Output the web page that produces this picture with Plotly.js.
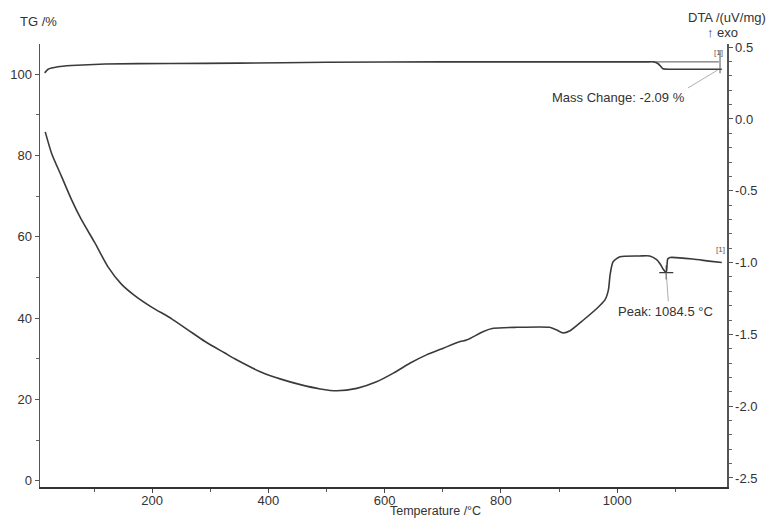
<!DOCTYPE html>
<html>
<head>
<meta charset="utf-8">
<script src="https://cdn.plot.ly/plotly-3.0.1.min.js"></script>
<style>html,body{margin:0;padding:0;background:#fff;}#chart{width:769px;height:518px;}</style>
</head>
<body>
<div id="chart"></div>
<script>
// TG curve (left axis, %)
const tgTemp = [15, 21, 38, 61, 119, 233, 348, 500, 700, 900, 1050, 1063, 1070, 1075, 1079, 1090, 1120, 1150, 1180];
const tgMass = [100.3, 101.2, 101.8, 102.1, 102.5, 102.6, 102.7, 102.9, 103.0, 103.0, 103.0, 103.0, 102.6, 101.9, 101.3, 101.2, 101.2, 101.2, 101.2];

// DTA curve (right axis, uV/mg)
const dtaTemp = [16, 27, 44, 61, 78, 101, 124, 147, 170, 199, 233, 262, 291, 325, 342, 386, 420, 455, 489, 518, 552, 586, 615, 644, 672, 701, 730, 741, 770, 787, 827, 884, 896, 907, 919, 942, 965, 979, 985, 988, 993, 1005, 1039, 1056, 1068, 1074, 1079, 1084.5, 1087, 1091, 1130, 1158, 1180];
const dtaVal = [-0.09, -0.24, -0.40, -0.56, -0.70, -0.86, -1.03, -1.15, -1.23, -1.31, -1.39, -1.47, -1.55, -1.63, -1.67, -1.76, -1.81, -1.85, -1.88, -1.893, -1.876, -1.83, -1.77, -1.70, -1.643, -1.596, -1.55, -1.54, -1.48, -1.458, -1.451, -1.451, -1.47, -1.49, -1.475, -1.40, -1.32, -1.26, -1.19, -1.08, -0.994, -0.959, -0.954, -0.954, -0.98, -1.01, -1.045, -1.07, -0.975, -0.965, -0.975, -0.99, -1.00];

// Axis ticks
const xTickVals = [200, 400, 600, 800, 1000];
const yTickVals = [0, 20, 40, 60, 80, 100];
const y2TickVals = [0.5, 0.0, -0.5, -1.0, -1.5, -2.0, -2.5];
const y2TickText = ['0.5', '0.0', '-0.5', '-1.0', '-1.5', '-2.0', '-2.5'];

// Annotations
const massChangeText = 'Mass Change: -2.09 %';
const peakTemp = 1084.5;
const peakVal = -1.07;
const peakText = 'Peak: 1084.5 °C';
const stepStart = 1063;
const stepLevel = 103.0;
const bracketT = 1177;

const ink = '#3a3a3a';
const fnt = {family: 'Liberation Sans, Arial, sans-serif', size: 13, color: '#333'};

const traces = [
  {x: tgTemp, y: tgMass, type: 'scatter', mode: 'lines', line: {color: ink, width: 1.6, shape: 'spline', smoothing: 0.5}, yaxis: 'y', hoverinfo: 'skip'},
  {x: dtaTemp, y: dtaVal, type: 'scatter', mode: 'lines', line: {color: ink, width: 1.6, shape: 'spline', smoothing: 0.6}, yaxis: 'y2', hoverinfo: 'skip'},
  {x: [peakTemp], y: [peakVal], type: 'scatter', mode: 'markers', marker: {symbol: 'cross-thin', size: 10, line: {color: ink, width: 1.2}}, yaxis: 'y2', hoverinfo: 'skip'}
];

const layout = {
  width: 769, height: 518,
  margin: {l: 40, r: 42, t: 44, b: 31},
  paper_bgcolor: '#fff', plot_bgcolor: '#fff',
  showlegend: false,
  font: fnt,
  xaxis: {
    range: [7, 1189], tickvals: xTickVals, ticks: 'outside', ticklen: 4, tickcolor: '#444',
    showline: true, linecolor: '#333', linewidth: 2, showgrid: false, zeroline: false,
    minor: {dtick: 100, tick0: 0, ticks: 'outside', ticklen: 3, tickcolor: '#555', showgrid: false},
    tickfont: fnt, ticklabelstandoff: -4
  },
  yaxis: {
    range: [-1.5, 107.4], tickvals: yTickVals, ticks: 'outside', ticklen: 4, tickcolor: '#555',
    showline: true, linecolor: '#555', linewidth: 1.5, showgrid: false, zeroline: false,
    minor: {dtick: 10, tick0: 0, ticks: 'outside', ticklen: 3, tickcolor: '#666', showgrid: false},
    tickfont: fnt
  },
  yaxis2: {
    overlaying: 'y', side: 'right', range: [-2.563, 0.522],
    tickvals: y2TickVals, ticktext: y2TickText, ticks: 'outside', ticklen: 4, tickcolor: '#555',
    showline: true, linecolor: '#555', linewidth: 1.5, showgrid: false, zeroline: false,
    minor: {dtick: 0.1, tick0: 0, ticks: 'outside', ticklen: 3, tickcolor: '#666', showgrid: false},
    tickfont: fnt
  },
  shapes: [
    {type: 'line', xref: 'x', yref: 'y', x0: stepStart, x1: bracketT - 2, y0: stepLevel, y1: stepLevel, line: {color: '#555', width: 1}},
    {type: 'line', xref: 'x', yref: 'y', x0: bracketT, x1: bracketT, y0: 100.2, y1: 105.9, line: {color: '#555', width: 1}},
    {type: 'line', xref: 'x', yref: 'y', x0: 1122, x1: 1173, y0: 96.6, y1: 101.0, line: {color: '#999', width: 0.8}},
    {type: 'line', xref: 'x', yref: 'y2', x0: peakTemp, x1: 1088, y0: peakVal, y1: -1.27, line: {color: '#999', width: 0.8}}
  ],
  annotations: [
    {text: 'TG /%', xref: 'paper', yref: 'paper', x: -0.002, y: 1.05, showarrow: false, font: fnt, xanchor: 'center', yanchor: 'middle'},
    {text: 'DTA /(uV/mg)', xref: 'paper', yref: 'paper', x: 1.059, y: 1.06, showarrow: false, font: fnt, xanchor: 'right', yanchor: 'middle'},
    {text: '↑ exo', xref: 'paper', yref: 'paper', x: 0.993, y: 1.025, showarrow: false, font: fnt, xanchor: 'center', yanchor: 'middle'},
    {text: 'Temperature /°C', xref: 'paper', yref: 'paper', x: 0.576, y: -0.0545, showarrow: false, font: {family: fnt.family, size: 12.5, color: '#333'}, xanchor: 'center', yanchor: 'middle'},
    {text: massChangeText, xref: 'x', yref: 'y', x: 1003, y: 94.3, showarrow: false, font: fnt, xanchor: 'center', yanchor: 'middle'},
    {text: peakText, xref: 'x', yref: 'y2', x: 1083, y: -1.34, showarrow: false, font: fnt, xanchor: 'center', yanchor: 'middle'},
    {text: '[1]', xref: 'x', yref: 'y', x: 1175, y: 105.3, showarrow: false, font: {family: fnt.family, size: 8, color: '#555'}, xanchor: 'center', yanchor: 'middle'},
    {text: '[1]', xref: 'x', yref: 'y2', x: 1177, y: -0.91, showarrow: false, font: {family: fnt.family, size: 8, color: '#555'}, xanchor: 'center', yanchor: 'middle'}
  ]
};

Plotly.newPlot('chart', traces, layout, {staticPlot: true, displayModeBar: false});
</script>
</body>
</html>
